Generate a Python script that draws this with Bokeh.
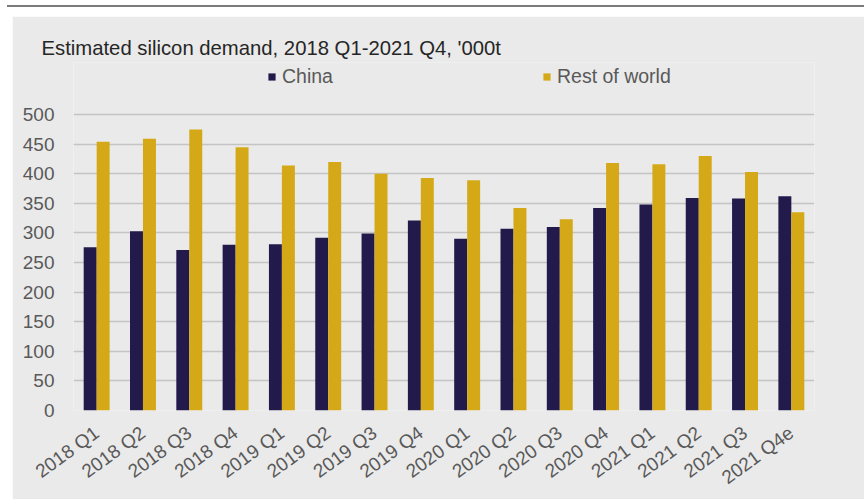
import math
from bokeh.plotting import figure
from bokeh.models import (ColumnDataSource, FactorRange, Range1d, FixedTicker, Title,
                          Legend, LegendItem, Div, Spacer)
from bokeh.layouts import column, row
from bokeh.transform import dodge
from bokeh.embed import file_html
from bokeh.resources import INLINE

# ---- data ----
quarters = ["2018 Q1", "2018 Q2", "2018 Q3", "2018 Q4",
            "2019 Q1", "2019 Q2", "2019 Q3", "2019 Q4",
            "2020 Q1", "2020 Q2", "2020 Q3", "2020 Q4",
            "2021 Q1", "2021 Q2", "2021 Q3", "2021 Q4e"]
china = [276, 303, 271, 280, 281, 292, 299, 321, 290, 307, 310, 342, 348, 359, 358, 362]
rest_of_world = [454, 459, 475, 445, 414, 420, 400, 393, 389, 342, 323, 418, 416, 430, 403, 335]
y_ticks = [0, 50, 100, 150, 200, 250, 300, 350, 400, 450, 500]
title_text = "Estimated silicon demand, 2018 Q1-2021 Q4, '000t"
series_names = ["China", "Rest of world"]

# ---- style ----
PANEL = "#eaeaea"
NAVY = "#221a4b"
GOLD = "#d5a818"
TEXT = "#595959"
FONT = "Liberation Sans"

source = ColumnDataSource(dict(q=quarters, china=china, row=rest_of_world))

# y range extends above 500 to leave room for the legend inside the frame
p = figure(width=852, height=483, x_range=FactorRange(*quarters, range_padding=0),
           y_range=Range1d(0, 588), output_backend="svg", toolbar_location=None,
           min_border_left=61, min_border_right=50, min_border_top=46, min_border_bottom=88)
p.border_fill_color = PANEL
p.background_fill_color = PANEL
p.outline_line_color = None

p.title = Title(text=title_text, align="left", offset=-32, standoff=8,
                text_font=FONT, text_font_size="20.3px", text_color="#262626",
                text_font_style="normal")

r1 = p.vbar(x=dodge("q", -0.14, range=p.x_range), top="china", width=0.28, source=source,
            fill_color=NAVY, line_color=None)
r2 = p.vbar(x=dodge("q", 0.14, range=p.x_range), top="row", width=0.28, source=source,
            fill_color=GOLD, line_color=None)

p.xgrid.grid_line_color = None
p.ygrid.ticker = FixedTicker(ticks=y_ticks)
p.ygrid.grid_line_color = "#c4c4c4"
p.ygrid.grid_line_width = 1.5

p.yaxis.ticker = FixedTicker(ticks=y_ticks)
p.yaxis.axis_line_color = None
p.yaxis.major_tick_line_color = None
p.yaxis.minor_tick_line_color = None
p.yaxis.major_tick_out = 0
p.yaxis.major_tick_in = 0
p.yaxis.minor_tick_out = 0
p.yaxis.major_label_text_font = FONT
p.yaxis.major_label_text_font_size = "19px"
p.yaxis.major_label_text_color = TEXT
p.yaxis.major_label_standoff = 19

p.xaxis.axis_line_color = None
p.xaxis.major_tick_line_color = None
p.xaxis.major_tick_out = 0
p.xaxis.major_tick_in = 0
p.xaxis.major_label_text_font = FONT
p.xaxis.major_label_text_font_size = "19px"
p.xaxis.major_label_text_color = TEXT
p.xaxis.major_label_orientation = math.radians(36)
p.xaxis.major_label_standoff = 20

legend = Legend(items=[LegendItem(label=series_names[0], renderers=[r1]),
                       LegendItem(label=series_names[1], renderers=[r2])],
                orientation="horizontal", location=(194, 322),
                glyph_width=9, glyph_height=9, label_standoff=6, spacing=209,
                label_height=20, padding=0, margin=0,
                border_line_color=None, background_fill_alpha=0,
                label_text_font=FONT, label_text_font_size="19.5px", label_text_color=TEXT)
p.add_layout(legend, "center")

top_line = Div(width=857, height=2, margin=0, styles={"background-color": "#7a7a7a"})
layout = column(
    Spacer(width=864, height=5, margin=0),
    row(Spacer(width=7, height=2, margin=0), top_line, spacing=0),
    Spacer(width=864, height=9, margin=0),
    row(Spacer(width=12, height=483, margin=0), p, spacing=0),
    spacing=0,
)

open("out.html", "w").write(file_html(layout, INLINE))
